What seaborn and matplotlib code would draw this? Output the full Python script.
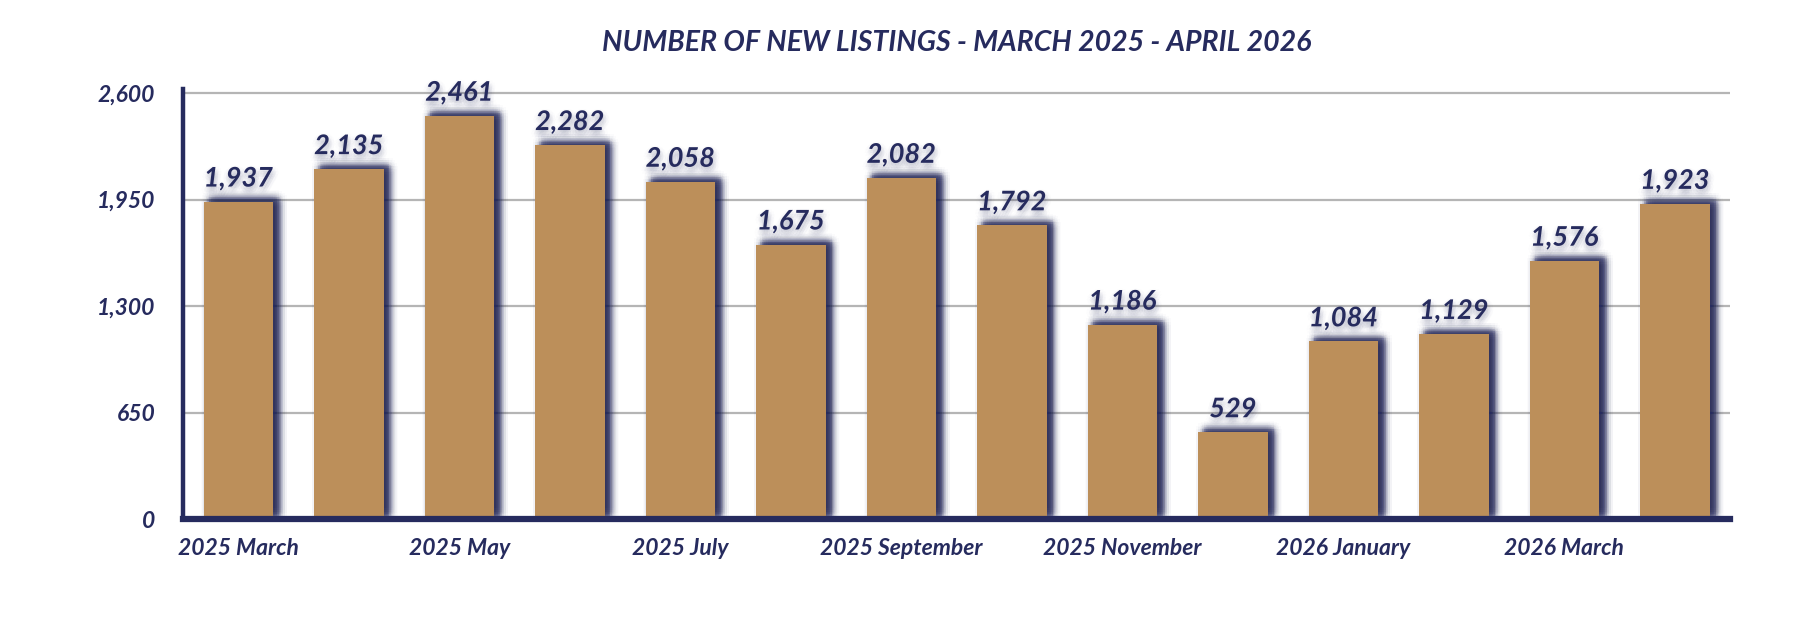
"""
New listings bar chart, March 2025 - April 2026
"""

import numpy as np
import matplotlib.pyplot as plt
import matplotlib.patheffects as pe
import seaborn as sns

months = ["2025 March", "2025 April", "2025 May", "2025 June", "2025 July",
          "2025 August", "2025 September", "2025 October", "2025 November",
          "2025 December", "2026 January", "2026 February", "2026 March",
          "2026 April"]
new_listings = [1937, 2135, 2461, 2282, 2058, 1675, 2082, 1792, 1186, 529,
                1084, 1129, 1576, 1923]
y_ticks = [0, 650, 1300, 1950, 2600]
title = "NUMBER OF NEW LISTINGS - MARCH 2025 - APRIL 2026"

NAVY = "#262b5e"
GOLD = "#bc8f5a"


def blur_shadow(cx, cy, core_alpha, ring_alpha, radii, n=12):
    """Fake a blurred drop shadow with a stack of offset copies"""
    effects = [pe.SimplePatchShadow(offset=(cx, cy), shadow_rgbFace=NAVY,
                                    alpha=core_alpha)]
    for r, a in zip(radii, ring_alpha):
        for ang in np.linspace(0, 2 * np.pi, n, endpoint=False):
            effects.append(pe.SimplePatchShadow(
                offset=(cx + r * np.cos(ang), cy + r * np.sin(ang)),
                shadow_rgbFace=NAVY, alpha=a))
    return effects


sns.set_style("white")
plt.rcParams['font.family'] = ['Lato', 'DejaVu Sans']

fig = plt.figure(figsize=(18.18, 6.4), dpi=100)
ax = fig.add_axes([0.1007, 0.189, 0.851, 0.672])

sns.barplot(x=months, y=new_listings, color=GOLD, width=0.63,
            saturation=1, linewidth=0, ax=ax, zorder=3)

bar_fx = blur_shadow(4.2, 2.2, 0.16, (0.05, 0.035, 0.025, 0.015),
                     (1.5, 3.0, 4.5, 6.0), n=16) + [pe.Normal()]
for patch in ax.patches:
    patch.set_linewidth(0)
    patch.set_path_effects(bar_fx)

labels = ax.bar_label(ax.containers[0],
                      labels=[f"{v:,}" for v in new_listings],
                      padding=8, fontsize=19.5, color=NAVY,
                      fontweight='bold', fontstyle='italic')
text_fx = blur_shadow(0.5, -3.0, 0.04, (0.02, 0.012),
                      (2.0, 4.0)) + [pe.Normal()]
for t in labels:
    t.set_path_effects(text_fx)
    t.set_zorder(4)

ax.set_xlim(-0.5, len(months) - 0.5)
ax.set_ylim(0, 2625)
ax.set_yticks(y_ticks)
ax.set_yticklabels([f"{v:,}" for v in y_ticks])
ax.set_xticks(range(0, len(months), 2))
ax.set_xticklabels(months[::2])

ax.yaxis.grid(True, color='#b5b5b5', linewidth=1.6)
ax.xaxis.grid(False)
ax.set_axisbelow(True)

for side in ['top', 'right']:
    ax.spines[side].set_visible(False)
ax.spines['left'].set_color(NAVY)
ax.spines['left'].set_linewidth(3.2)
ax.spines['bottom'].set_color(NAVY)
ax.spines['bottom'].set_linewidth(4.5)
ax.spines['bottom'].set_zorder(5)

ax.tick_params(axis='y', length=0, pad=20, labelsize=16.5, labelcolor=NAVY)
ax.tick_params(axis='x', length=0, pad=14, labelsize=16.5, labelcolor=NAVY)
for t in ax.get_xticklabels() + ax.get_yticklabels():
    t.set_fontweight('bold')
    t.set_fontstyle('italic')

ax.set_xlabel('')
ax.set_ylabel('')
fig.text(0.526, 0.933, title, ha='center', va='center', fontsize=20.5,
         color=NAVY, fontweight='bold', fontstyle='italic')

fig.savefig('out.png', dpi=100, facecolor='white')
